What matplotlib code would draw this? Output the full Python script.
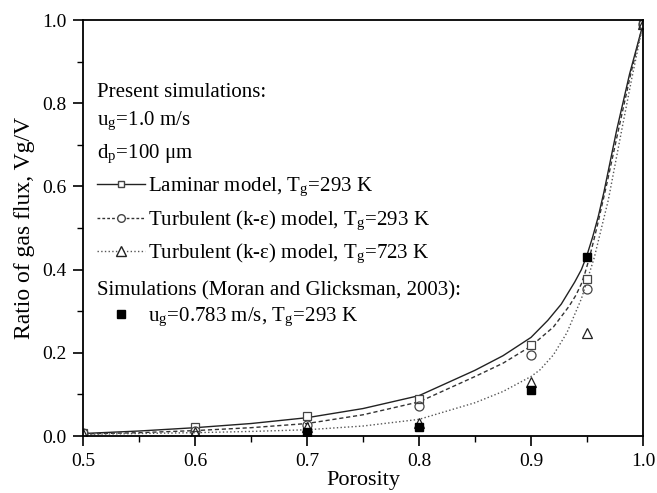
"""Ratio of gas flux against porosity for the laminar and turbulent runs."""

from matplotlib import pyplot as plt
from matplotlib.lines import Line2D
from matplotlib.ticker import MultipleLocator

plt.rcParams['font.family'] = ['Liberation Serif', 'DejaVu Serif']
plt.rcParams['mathtext.fontset'] = 'stix'

# fitted curves
lam_x = [0.5, 0.55, 0.6, 0.65, 0.7, 0.75, 0.8, 0.85, 0.875, 0.9, 0.915,
         0.927, 0.939, 0.945, 0.95, 0.955, 0.96, 0.965, 0.9765, 0.988, 1.0]
lam_y = [0.006, 0.012, 0.020, 0.030, 0.044, 0.066, 0.097, 0.158, 0.193,
         0.237, 0.278, 0.317, 0.37, 0.40, 0.435, 0.478, 0.527, 0.585,
         0.7356, 0.87, 0.99]

turb_x = [0.5, 0.55, 0.6, 0.65, 0.7, 0.75, 0.8, 0.85, 0.875, 0.9, 0.92,
          0.934, 0.94, 0.945, 0.948, 0.952, 0.956, 0.96, 0.968, 0.978,
          0.989, 1.0]
turb_y = [0.005, 0.008, 0.013, 0.020, 0.030, 0.051, 0.082, 0.143, 0.175,
          0.216, 0.262, 0.312, 0.338, 0.366, 0.39, 0.427, 0.47, 0.515,
          0.61, 0.735, 0.87, 0.99]

hot_x = [0.5, 0.55, 0.6, 0.65, 0.7, 0.75, 0.8, 0.85, 0.875, 0.9, 0.908,
         0.92, 0.932, 0.945, 0.9566, 0.962, 0.969, 0.981, 0.99, 1.0]
hot_y = [0.004, 0.006, 0.008, 0.011, 0.015, 0.024, 0.040, 0.080, 0.107,
         0.143, 0.159, 0.195, 0.248, 0.33, 0.43, 0.49, 0.567, 0.7356, 0.86, 0.99]

# simulated points
porosity = [0.5, 0.6, 0.7, 0.8, 0.9, 0.95, 1.0]
lam_pts = [0.007, 0.022, 0.048, 0.088, 0.219, 0.377, 0.99]
turb_pts = [0.007, 0.013, 0.026, 0.072, 0.195, 0.353, 0.99]
hot_pts = [0.005, 0.010, 0.022, 0.031, 0.131, 0.248, 0.99]

# Moran and Glicksman (2003)
moran_x = [0.7, 0.8, 0.9, 0.95]
moran_y = [0.009, 0.022, 0.110, 0.430]

fs = 15

fig = plt.figure(figsize=(6.57, 4.93), dpi=100)
ax = fig.add_axes([0.1263, 0.1156, 0.8524, 0.8438])

ax.plot(lam_x, lam_y, '-', color='#222222', lw=1.0)
ax.plot(turb_x, turb_y, '--', color='#333333', lw=1.0, dashes=(3, 2))
ax.plot(hot_x, hot_y, ':', color='#555555', lw=1.0)

ms = 6
ax.plot(porosity, lam_pts, 's', mfc='white', mec='#444444', ms=ms, mew=0.9)
ax.plot(porosity, turb_pts, 'o', mfc='none', mec='#444444', ms=ms + 0.5,
        mew=0.9)
ax.plot(porosity, hot_pts, '^', mfc='none', mec='#222222', ms=ms + 1.5,
        mew=0.9)
ax.plot(moran_x, moran_y, 's', color='black', ms=ms)

ax.set_xlim(0.5, 1.0)
ax.set_ylim(0.0, 1.0)
ax.xaxis.set_major_locator(MultipleLocator(0.1))
ax.xaxis.set_minor_locator(MultipleLocator(0.05))
ax.yaxis.set_major_locator(MultipleLocator(0.2))
ax.yaxis.set_minor_locator(MultipleLocator(0.1))
ax.xaxis.set_major_formatter(plt.FormatStrFormatter('%.1f'))
ax.yaxis.set_major_formatter(plt.FormatStrFormatter('%.1f'))
ax.tick_params(which='major', direction='out', length=7, width=1.2,
               labelsize=14, pad=5, top=False, right=False)
ax.tick_params(which='minor', direction='out', length=4, width=1.0,
               top=False, right=False)
for sp in ax.spines.values():
    sp.set_linewidth(1.3)

ax.set_xlabel('Porosity', fontsize=16, labelpad=1)
ax.set_ylabel('Ratio of gas flux, Vg/V', fontsize=17, labelpad=5)

# legend block
tx = 0.025
ax.text(tx, 0.825, 'Present simulations:', fontsize=fs, va='center',
        transform=ax.transAxes)
ax.text(tx, 0.757, r'u$_\mathregular{g}$=1.0 m/s', fontsize=fs,
        va='center', transform=ax.transAxes)
ax.text(tx, 0.677, r'd$_\mathregular{p}$=100 μm', fontsize=fs,
        va='center', transform=ax.transAxes)
ax.text(tx, 0.348, 'Simulations (Moran and Glicksman, 2003):', fontsize=fs,
        va='center', transform=ax.transAxes)

h1 = [
    Line2D([], [], ls='-', color='#222222', lw=1.0, marker='s', mfc='white',
           mec='#444444', ms=5),
    Line2D([], [], ls='--', dashes=(2, 1.5), color='#333333', lw=1.0,
           marker='o', mfc='white', mec='#444444', ms=5.5),
    Line2D([], [], ls=':', color='#555555', lw=1.0, marker='^', mfc='white',
           mec='#222222', ms=6.5),
]
l1 = [r'Laminar model, T$_\mathregular{g}$=293 K',
      r'Turbulent (k-ε) model, T$_\mathregular{g}$=293 K',
      r'Turbulent (k-ε) model, T$_\mathregular{g}$=723 K']
leg1 = ax.legend(h1, l1, loc='upper left', bbox_to_anchor=(tx, 0.625),
                 frameon=False, fontsize=fs, numpoints=1, handlelength=2.3,
                 handletextpad=0.15, labelspacing=0.45, borderaxespad=0.0,
                 borderpad=0.0)
ax.add_artist(leg1)

h2 = [Line2D([], [], ls='none', marker='s', color='black', ms=5.5)]
l2 = [r'u$_\mathregular{g}$=0.783 m/s, T$_\mathregular{g}$=293 K']
ax.legend(h2, l2, loc='upper left', bbox_to_anchor=(tx, 0.313),
          frameon=False, fontsize=fs, numpoints=1, handlelength=2.3,
          handletextpad=0.15, borderaxespad=0.0, borderpad=0.0)

fig.savefig('out.png', dpi=100)
